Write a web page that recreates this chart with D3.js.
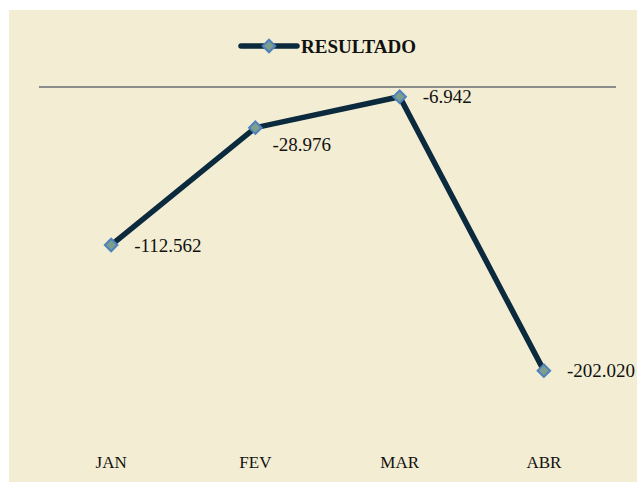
<!DOCTYPE html>
<html>
<head>
<meta charset="utf-8">
<script src="https://cdn.jsdelivr.net/npm/d3@7"></script>
<style>
	body { margin: 0; background: #ffffff; }
	text { font-family: "Liberation Serif", "Times New Roman", serif; fill: #111; }
</style>
</head>
<body>
<div id="chart"></div>
<script>
// chart data
var g_months = ["JAN", "FEV", "MAR", "ABR"];
var g_values = [-112562, -28976, -6942, -202020];
var g_labels = ["-112.562", "-28.976", "-6.942", "-202.020"];
var g_seriesName = "RESULTADO";

var width = 637, height = 484;
var lineColor = "#0b2a3d";

var svg = d3.select("#chart").append("svg")
	.attr("width", width)
	.attr("height", height);

// chart area background
svg.append("rect")
	.attr("x", 9).attr("y", 10)
	.attr("width", width - 9).attr("height", height - 12)
	.attr("fill", "#f3edd3");

var x = d3.scaleBand()
	.domain(g_months)
	.range([39, 616])
	.padding(0);

var y = d3.scaleLinear()
	.domain([-250000, 0])
	.range([438, 87]);

// zero line
svg.append("line")
	.attr("x1", 39).attr("x2", 616)
	.attr("y1", y(0)).attr("y2", y(0))
	.attr("stroke", "#8c8c8c")
	.attr("stroke-width", 2);

// category labels
var xAxis = d3.axisBottom(x).tickSize(0).tickPadding(0);
var gx = svg.append("g")
	.attr("transform", "translate(0,456)")
	.call(xAxis);
gx.select(".domain").remove();
gx.selectAll("text")
	.attr("dy", "0.71em")
	.style("font-size", "17px")
	.style("font-family", "'Liberation Serif', serif")
	.attr("fill", "#111");

var data = g_months.map(function(m, i){
	return {month: m, value: g_values[i], label: g_labels[i]};
});

var line = d3.line()
	.x(function(d){ return x(d.month) + x.bandwidth() / 2; })
	.y(function(d){ return y(d.value); });

svg.append("path")
	.datum(data)
	.attr("d", line)
	.attr("fill", "none")
	.attr("stroke", lineColor)
	.attr("stroke-width", 5.5)
	.attr("stroke-linejoin", "miter");

var diamond = d3.symbol().type(d3.symbolDiamond2).size(100);

function drawMarker(g, cx, cy){
	g.append("path")
		.attr("d", diamond())
		.attr("transform", `translate(${cx},${cy})`)
		.attr("fill", "#7b9f8c")
		.attr("stroke", "#4f81bd")
		.attr("stroke-width", 2);
}

data.forEach(function(d){
	drawMarker(svg, x(d.month) + x.bandwidth() / 2, y(d.value));
});

// data labels, FEV sits a bit lower like in the original
svg.selectAll(".dlabel")
	.data(data)
	.enter()
	.append("text")
	.attr("class", "dlabel")
	.attr("x", function(d){ return x(d.month) + x.bandwidth() / 2 + (d.month == "FEV" ? 17 : 23); })
	.attr("y", function(d){ return y(d.value) + (d.month == "FEV" ? 17 : 0); })
	.attr("dy", "0.35em")
	.style("font-size", "19px")
	.text(function(d){ return d.label; });

// legend
var legend = svg.append("g");
legend.append("line")
	.attr("x1", 241).attr("x2", 297)
	.attr("y1", 46).attr("y2", 46)
	.attr("stroke", lineColor)
	.attr("stroke-width", 5.5)
	.attr("stroke-linecap", "round");
drawMarker(legend, 269, 46);
legend.append("text")
	.attr("x", 301)
	.attr("y", 46)
	.attr("dy", "0.35em")
	.style("font-size", "19px")
	.style("font-weight", "bold")
	.text(g_seriesName);
</script>
</body>
</html>
